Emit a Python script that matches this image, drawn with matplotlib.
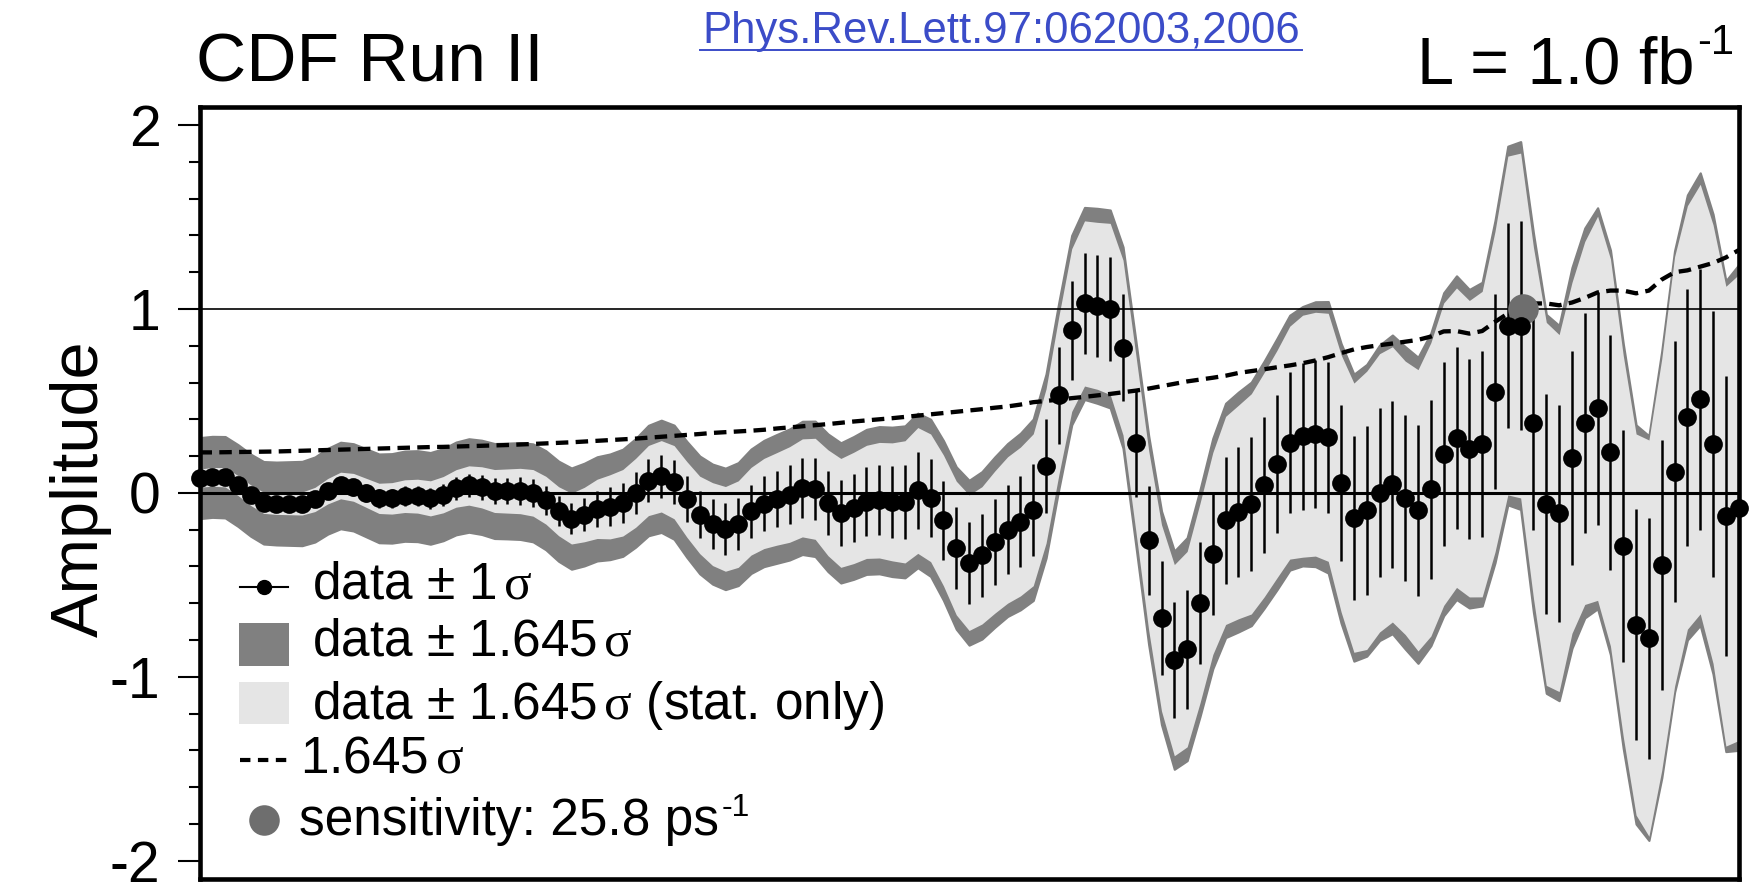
import matplotlib
matplotlib.use("Agg")
import matplotlib.pyplot as plt
from matplotlib.patches import Rectangle
from matplotlib.lines import Line2D
from matplotlib.ticker import MultipleLocator
import numpy as np

plt.rcParams['font.family'] = ['Liberation Sans', 'DejaVu Sans']
plt.rcParams['mathtext.fontset'] = 'custom'
plt.rcParams['mathtext.rm'] = 'Liberation Sans'
plt.rcParams['mathtext.it'] = 'Liberation Serif'
plt.rcParams['mathtext.bf'] = 'Liberation Sans:bold'

# amplitude scan, Delta m_s from 0 to 30 ps^-1 in 0.25 steps
dms = np.arange(121) * 0.25

amp = [0.080, 0.087, 0.085, 0.040, -0.013, -0.054, -0.058, -0.058, -0.058, -0.036,
       0.009, 0.040, 0.030, 0.000, -0.030, -0.030, -0.018, -0.018, -0.030, -0.010,
       0.024, 0.040, 0.030, 0.010, 0.010, 0.010, 0.000, -0.040, -0.100, -0.140,
       -0.118, -0.087, -0.076, -0.054, 0.000, 0.067, 0.090, 0.058, -0.036, -0.120,
       -0.170, -0.196, -0.170, -0.100, -0.058, -0.033, -0.009, 0.027, 0.022, -0.054,
       -0.109, -0.082, -0.049, -0.040, -0.049, -0.049, 0.013, -0.027, -0.150, -0.300,
       -0.380, -0.340, -0.268, -0.202, -0.156, -0.092, 0.146, 0.530, 0.885, 1.030,
       1.017, 1.000, 0.790, 0.270, -0.258, -0.680, -0.910, -0.850, -0.600, -0.330,
       -0.150, -0.104, -0.060, 0.044, 0.156, 0.273, 0.308, 0.319, 0.302, 0.052,
       -0.135, -0.095, 0.000, 0.046, -0.027, -0.095, 0.019, 0.210, 0.300, 0.240,
       0.265, 0.550, 0.910, 0.910, 0.380, -0.060, -0.110, 0.190, 0.380, 0.460,
       0.220, -0.290, -0.716, -0.790, -0.390, 0.116, 0.410, 0.510, 0.265, -0.127, -0.080]

# 1 sigma (stat) error bars
err = [0.030, 0.031, 0.032, 0.033, 0.034, 0.035, 0.036, 0.037, 0.038, 0.040,
       0.042, 0.044, 0.046, 0.048, 0.050, 0.052, 0.054, 0.056, 0.058, 0.060,
       0.062, 0.065, 0.068, 0.071, 0.073, 0.075, 0.077, 0.079, 0.081, 0.084,
       0.090, 0.098, 0.106, 0.110, 0.114, 0.116, 0.118, 0.121, 0.125, 0.128,
       0.137, 0.140, 0.143, 0.145, 0.149, 0.153, 0.158, 0.162, 0.167, 0.175,
       0.180, 0.184, 0.187, 0.191, 0.195, 0.202, 0.208, 0.211, 0.216, 0.221,
       0.224, 0.227, 0.235, 0.242, 0.246, 0.251, 0.255, 0.262, 0.269, 0.273,
       0.276, 0.283, 0.289, 0.291, 0.297, 0.308, 0.316, 0.323, 0.330, 0.334,
       0.344, 0.353, 0.364, 0.371, 0.376, 0.385, 0.400, 0.403, 0.410, 0.425,
       0.445, 0.460, 0.460, 0.455, 0.452, 0.465, 0.485, 0.500, 0.495, 0.490,
       0.505, 0.530, 0.560, 0.570, 0.580, 0.600, 0.590, 0.580, 0.600, 0.635,
       0.640, 0.630, 0.630, 0.655, 0.680, 0.710, 0.700, 0.710, 0.725, 0.760, 0.770]

# 1.645 sigma (stat + syst)
lim = [0.220, 0.220, 0.221, 0.222, 0.223, 0.224, 0.225, 0.227, 0.229, 0.231,
       0.233, 0.235, 0.237, 0.239, 0.241, 0.243, 0.245, 0.247, 0.249, 0.250,
       0.252, 0.254, 0.256, 0.258, 0.260, 0.263, 0.266, 0.269, 0.272, 0.275,
       0.279, 0.283, 0.287, 0.291, 0.295, 0.300, 0.305, 0.310, 0.315, 0.320,
       0.326, 0.330, 0.334, 0.338, 0.343, 0.350, 0.356, 0.362, 0.368, 0.374,
       0.381, 0.388, 0.394, 0.400, 0.406, 0.413, 0.420, 0.427, 0.434, 0.441,
       0.448, 0.455, 0.463, 0.470, 0.480, 0.493, 0.500, 0.507, 0.515, 0.522,
       0.530, 0.538, 0.547, 0.556, 0.567, 0.580, 0.593, 0.606, 0.616, 0.626,
       0.637, 0.652, 0.662, 0.672, 0.683, 0.693, 0.705, 0.720, 0.738, 0.760,
       0.780, 0.793, 0.803, 0.812, 0.822, 0.832, 0.850, 0.878, 0.880, 0.866,
       0.880, 0.930, 0.975, 1.000, 1.030, 1.030, 1.020, 1.035, 1.060, 1.090,
       1.100, 1.100, 1.085, 1.100, 1.160, 1.200, 1.210, 1.230, 1.250, 1.280, 1.320]

sens_x = 25.8
sens_y = 1.0

ytick_vals = [-2, -1, 0, 1, 2]
ytick_labels = ['-2', '-1', '0', '1', '2']

legend_labels = ['data \u00b1 1$\\,\\sigma$',
                 'data \u00b1 1.645$\\,\\sigma$',
                 'data \u00b1 1.645$\\,\\sigma$ (stat. only)',
                 '1.645$\\,\\sigma$',
                 'sensitivity: 25.8 ps']

dark = '#808080'
light = '#e5e5e5'
sens_col = '#6e6e6e'
link_blue = '#3b4cc8'

amp = np.array(amp)
err = np.array(err)
lim = np.array(lim)

W, H = 1764, 882
fig = plt.figure(figsize=(W / 100, H / 100), dpi=100)
ax = fig.add_axes([199.5 / W, 3 / H, 1539.2 / W, 772.3 / H])

# bands
ax.fill_between(dms, amp - lim, amp + lim, facecolor=dark, edgecolor=dark, lw=1.6, zorder=1)
ax.fill_between(dms, amp - 1.645 * err, amp + 1.645 * err, color=light, lw=0, zorder=2)

ax.axhline(0, color='black', lw=2.2, zorder=3)
ax.axhline(1, color='black', lw=1.2, zorder=3)

ax.plot(dms, lim, color='black', lw=3.1, dashes=(2.9, 1.7), zorder=4)
ax.errorbar(dms, amp, yerr=err, fmt='none', ecolor='black', elinewidth=1.8, capsize=0, zorder=5)
ax.plot([sens_x], [sens_y], 'o', ms=22, color=sens_col, mec='none', zorder=5.5)
ax.plot(dms, amp, 'o', ms=13.5, color='black', mec='none', zorder=6, clip_on=False)

ax.set_xlim(0, 30)
ax.set_ylim(-2.1, 2.1)
ax.set_yticks(ytick_vals, ytick_labels)
ax.yaxis.set_minor_locator(MultipleLocator(0.2))
ax.tick_params(axis='y', which='major', direction='out', length=16, width=1.5, labelsize=41, pad=12)
ax.tick_params(axis='y', which='minor', direction='out', length=8, width=1.5)
ax.tick_params(axis='x', which='both', bottom=False, labelbottom=False)
for s in ax.spines.values():
    s.set_linewidth(3.3)
    s.set_zorder(7)

# legend, drawn by hand in axes fraction
tr = ax.transAxes
ax.add_line(Line2D([0.0263, 0.0575], [0.3786, 0.3786], transform=tr, color='black', lw=1.5))
ax.plot([0.0419], [0.3786], 'o', ms=10, color='black', transform=tr)
ax.add_patch(Rectangle((0.0257, 0.2758), 0.0324, 0.0557, transform=tr, color=dark, lw=0))
ax.add_patch(Rectangle((0.0257, 0.2007), 0.0324, 0.0544, transform=tr, color=light, lw=0))
ax.add_line(Line2D([0.0263, 0.0575], [0.1541, 0.1541], transform=tr, color='black',
                   lw=3.0, dashes=(2.5, 1.8)))
ax.plot([0.0419], [0.0764], 'o', ms=22, color=sens_col, mec='none', transform=tr)

ax.text(0.0728, 0.3626, legend_labels[0], transform=tr, fontsize=37, va='baseline')
ax.text(0.0728, 0.2900, legend_labels[1], transform=tr, fontsize=37, va='baseline')
ax.text(0.0728, 0.2072, legend_labels[2], transform=tr, fontsize=37, va='baseline')
ax.text(0.0650, 0.1373, legend_labels[3], transform=tr, fontsize=37, va='baseline')
st = ax.text(0.0644, 0.0570, legend_labels[4], transform=tr, fontsize=37, va='baseline')
ax.annotate('-1', xy=(1, 1), xycoords=st, xytext=(2, 3), textcoords='offset points',
            fontsize=23, ha='left', va='top')

# header texts
fig.text(195.5 / W, 1 - 81 / H, 'CDF Run II', fontsize=50, ha='left', va='baseline')
fig.text(1001 / W, 1 - 43 / H, 'Phys.Rev.Lett.97:062003,2006', fontsize=31.5,
         color=link_blue, ha='center', va='baseline')
fig.add_artist(Line2D([700 / W, 1302 / W], [1 - 50 / H, 1 - 50 / H], color=link_blue, lw=1.4))
lt = fig.text(1417 / W, 1 - 83 / H, 'L = 1.0 fb', fontsize=48, ha='left', va='baseline')
ax.annotate('-1', xy=(1, 1), xycoords=lt, xytext=(2, 9), textcoords='offset points',
            fontsize=30, ha='left', va='top')

fig.text(81 / W, 1 - 489 / H, 'Amplitude', rotation=90, fontsize=48, ha='center', va='center')

fig.savefig('out.png', dpi=100)
